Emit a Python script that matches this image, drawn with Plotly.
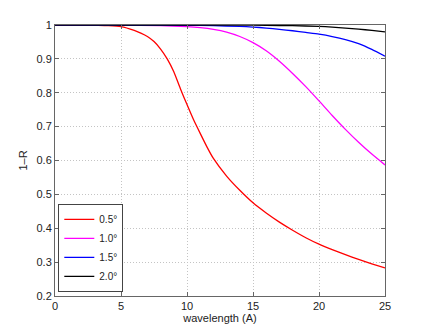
import plotly.graph_objects as go

# values (wavelength in A, 1-R)
x05 = [0, 1, 2, 3, 4, 5, 6, 6.5, 7, 7.5, 8, 8.5, 9, 9.5, 10, 10.5, 11, 11.5, 12,
       13, 14, 15, 16, 17, 18, 19, 20, 21, 22, 23, 24, 25]
r05 = [1.0, 1.0, 1.0, 0.999, 0.998, 0.995, 0.984, 0.976, 0.966, 0.951, 0.929, 0.9, 0.862, 0.812,
       0.765, 0.72, 0.68, 0.641, 0.606, 0.554, 0.512, 0.475, 0.445, 0.418, 0.394, 0.372,
       0.353, 0.337, 0.322, 0.308, 0.295, 0.283]
x10 = [0, 5, 8, 10, 11, 12, 13, 14, 15, 16, 17, 18, 19, 20, 21, 22, 23, 24, 25]
r10 = [1.0, 1.0, 0.998, 0.995, 0.992, 0.987, 0.979, 0.966, 0.948, 0.924, 0.893, 0.857, 0.818,
       0.776, 0.733, 0.692, 0.654, 0.619, 0.587]
x15 = [0, 10, 12, 14, 15, 16, 17, 18, 19, 20, 21, 22, 23, 24, 25]
r15 = [1.0, 0.999, 0.998, 0.996, 0.994, 0.991, 0.987, 0.983, 0.978, 0.973, 0.966, 0.957,
       0.945, 0.928, 0.908]
x20 = [0, 14, 16, 18, 20, 21, 22, 23, 24, 25]
r20 = [1.0, 1.0, 0.999, 0.998, 0.996, 0.994, 0.991, 0.988, 0.984, 0.98]
labels = ["0.5°", "1.0°", "1.5°", "2.0°"]
colors = ["#ff0000", "#ff00ff", "#0000ff", "#000000"]

fig = go.Figure()
for xs, ys, name, c in zip([x05, x10, x15, x20], [r05, r10, r15, r20], labels, colors):
    fig.add_trace(go.Scatter(x=xs, y=ys, name=name, mode="lines",
                             line=dict(color=c, width=1.3, shape="spline", smoothing=0.6)))

axis_style = dict(showline=True, linecolor="#666", linewidth=1, mirror="ticks",
                  ticks="inside", ticklen=4, tickcolor="#666",
                  showgrid=True, gridcolor="#c4c4c4", griddash="1px,2px", gridwidth=1,
                  zeroline=False, automargin=False, tickfont=dict(size=11, color="#222"))

fig.update_xaxes(range=[0, 25], dtick=5, title=dict(text="wavelength (A)", standoff=2,
                 font=dict(size=11, color="#222")), **axis_style)
fig.update_yaxes(range=[0.2, 1], dtick=0.1, tickformat=".1~f",
                 title=dict(text="1–R", standoff=6, font=dict(size=11, color="#222")), **axis_style)

# the page body adds an 8px margin, so the figure is shrunk and offset to match
fig.update_layout(
    width=417, height=325,
    margin=dict(l=47, r=40, t=17, b=37),
    paper_bgcolor="white", plot_bgcolor="white",
    font=dict(family="Liberation Sans, Arial, sans-serif", size=11, color="#222"),
    legend=dict(x=0.01, y=0.015, xanchor="left", yanchor="bottom",
                bgcolor="white", bordercolor="#444", borderwidth=1,
                font=dict(size=10), tracegroupgap=0, itemwidth=30),
)

fig.write_html("out.html")
